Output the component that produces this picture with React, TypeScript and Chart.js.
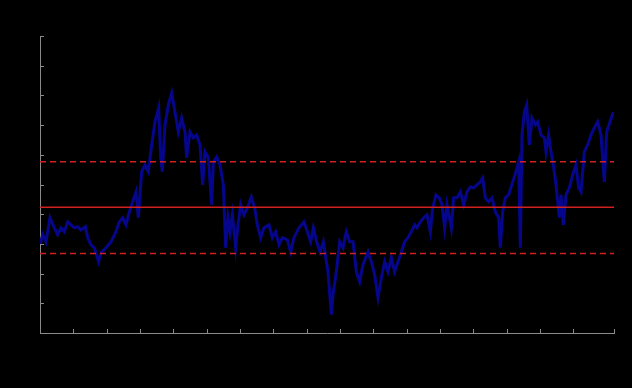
import { useEffect, useRef } from "react";
import { Chart, registerables } from "chart.js";

Chart.register(...registerables);

// time in years since the first observation
const time = [
  0.0, 0.08, 0.18, 0.3, 0.43, 0.53, 0.63, 0.73, 0.83, 0.93, 1.03, 1.13, 1.23, 1.36, 1.43, 1.53, 1.63, 1.76, 1.83, 1.98,
  2.13, 2.28, 2.38, 2.48, 2.58, 2.68, 2.78, 2.88, 2.95, 3.05, 3.15, 3.25, 3.35, 3.45, 3.56, 3.62, 3.67, 3.75, 3.85, 3.95,
  4.05, 4.15, 4.25, 4.35, 4.4, 4.5, 4.6, 4.7, 4.8, 4.88, 4.95, 5.05, 5.15, 5.2, 5.3, 5.4, 5.5, 5.57, 5.64, 5.7,
  5.77, 5.87, 5.94, 6.02, 6.12, 6.22, 6.34, 6.44, 6.52, 6.62, 6.72, 6.87, 6.97, 7.07, 7.17, 7.27, 7.42, 7.52, 7.62, 7.77,
  7.92, 8.02, 8.12, 8.2, 8.3, 8.4, 8.5, 8.64, 8.74, 8.79, 8.89, 8.99, 9.09, 9.19, 9.29, 9.39, 9.49, 9.59, 9.69, 9.84,
  9.94, 10.04, 10.14, 10.24, 10.34, 10.44, 10.54, 10.64, 10.74, 10.84, 10.94, 11.04, 11.14, 11.24, 11.31, 11.41, 11.51, 11.61, 11.71, 11.78,
  11.88, 11.98, 12.06, 12.14, 12.21, 12.34, 12.41, 12.51, 12.61, 12.71, 12.81, 12.91, 13.01, 13.11, 13.21, 13.28, 13.36, 13.46, 13.56, 13.66,
  13.76, 13.81, 13.88, 13.96, 14.06, 14.18, 14.28, 14.36, 14.41, 14.46, 14.53, 14.6, 14.68, 14.76, 14.86, 14.93, 15.03, 15.13, 15.18, 15.26,
  15.33, 15.4, 15.48, 15.53, 15.58, 15.63, 15.7, 15.78, 15.88, 15.98, 16.08, 16.16, 16.23, 16.33, 16.43, 16.53, 16.63, 16.73, 16.83, 16.93,
  17.0, 17.1, 17.2,
];

const values = [
  2.97, 3.31, 3.07, 3.88, 3.54, 3.31, 3.54, 3.41, 3.74, 3.64, 3.54, 3.58, 3.47, 3.58, 3.21, 2.97, 2.87, 2.4, 2.7, 2.87,
  3.07, 3.41, 3.74, 3.88, 3.64, 4.08, 4.42, 4.75, 3.88, 5.43, 5.66, 5.43, 6.33, 7.11, 7.58, 5.9, 5.43, 7.01, 7.68, 8.08,
  7.44, 6.77, 7.24, 6.77, 5.9, 6.77, 6.57, 6.67, 6.33, 4.99, 6.1, 5.9, 4.32, 5.76, 5.93, 5.66, 4.99, 2.87, 3.88, 3.41,
  3.98, 2.87, 3.64, 4.32, 3.98, 4.21, 4.58, 4.21, 3.64, 3.21, 3.54, 3.64, 3.21, 3.41, 2.97, 3.21, 3.14, 2.73, 3.21, 3.54,
  3.74, 3.41, 3.07, 3.54, 3.07, 2.73, 3.07, 2.06, 0.62, 1.29, 2.06, 3.07, 2.87, 3.41, 3.07, 3.07, 2.06, 1.73, 2.3, 2.73,
  2.4, 1.96, 1.19, 1.86, 2.4, 2.06, 2.54, 2.06, 2.4, 2.73, 3.07, 3.21, 3.41, 3.64, 3.54, 3.74, 3.88, 3.98, 3.41, 4.21,
  4.65, 4.55, 4.32, 3.54, 4.32, 3.54, 4.55, 4.55, 4.75, 4.32, 4.75, 4.92, 4.89, 4.99, 5.09, 5.22, 4.55, 4.42, 4.55, 4.08,
  3.88, 2.87, 4.08, 4.55, 4.65, 5.09, 5.43, 5.76, 2.87, 6.67, 7.44, 7.68, 6.33, 7.24, 7.01, 7.11, 6.67, 6.57, 6.1, 6.67,
  6.1, 5.66, 4.99, 4.42, 3.88, 4.65, 3.64, 4.65, 4.89, 5.32, 5.66, 4.89, 4.75, 6.1, 6.33, 6.67, 6.91, 7.11, 6.67, 5.09,
  6.77, 7.11, 7.44,
];

const meanValue = 4.23;
const upperBand = 5.77;
const lowerBand = 2.68;

const xMin = 0;
const xMax = 17.22;
const yMin = 0;
const yMax = 10;

const axisColor = "#8a8a8a";
const seriesColor = "#06068c";
const bandColor = "#d02020";

const innerTicks = {
  id: "innerTicks",
  afterDraw(chart: any) {
    const ctx = chart.ctx;
    const xs = chart.scales.x;
    const ys = chart.scales.y;
    ctx.save();
    ctx.strokeStyle = axisColor;
    ctx.lineWidth = 1;
    ctx.beginPath();
    ys.ticks.forEach((_t: any, i: number) => {
      const py = Math.round(ys.getPixelForTick(i)) + 0.5;
      ctx.moveTo(xs.left, py);
      ctx.lineTo(xs.left + 4, py);
    });
    xs.ticks.forEach((_t: any, i: number) => {
      const px = Math.round(xs.getPixelForTick(i)) + 0.5;
      ctx.moveTo(px, ys.bottom);
      ctx.lineTo(px, ys.bottom - 4);
    });
    ctx.stroke();
    ctx.restore();
  },
};

const blackBackground = {
  id: "blackBackground",
  beforeDraw(chart: any) {
    const ctx = chart.ctx;
    ctx.save();
    ctx.fillStyle = "#000000";
    ctx.fillRect(0, 0, chart.width, chart.height);
    ctx.restore();
  },
};

export default function App() {
  const canvasRef = useRef<HTMLCanvasElement | null>(null);

  useEffect(() => {
    document.body.style.margin = "0";
    document.body.style.background = "#000000";
    const canvas = canvasRef.current;
    if (!canvas) return;

    const series = time.map((t, i) => ({ x: t, y: values[i] }));
    const flat = (v: number) => [
      { x: xMin, y: v },
      { x: xMax, y: v },
    ];

    const chart = new Chart(canvas, {
      type: "line",
      data: {
        datasets: [
          {
            label: "Mean",
            data: flat(meanValue),
            borderColor: bandColor,
            borderWidth: 1.5,
            pointRadius: 0,
            order: 1,
          },
          {
            label: "+1 SD",
            data: flat(upperBand),
            borderColor: bandColor,
            borderWidth: 1.5,
            borderDash: [6, 4],
            pointRadius: 0,
            order: 1,
          },
          {
            label: "-1 SD",
            data: flat(lowerBand),
            borderColor: bandColor,
            borderWidth: 1.5,
            borderDash: [6, 4],
            pointRadius: 0,
            order: 1,
          },
          {
            label: "Series",
            data: series,
            borderColor: seriesColor,
            borderWidth: 3,
            pointRadius: 0,
            tension: 0,
            order: 2,
          },
        ],
      },
      options: {
        animation: false,
        responsive: false,
        maintainAspectRatio: false,
        layout: { padding: { left: 40, top: 36, right: 18, bottom: 55 } },
        plugins: { legend: { display: false }, tooltip: { enabled: false } },
        scales: {
          x: {
            type: "linear",
            min: xMin,
            max: xMax,
            ticks: { display: false, stepSize: 1 },
            grid: { display: true, drawOnChartArea: false, drawTicks: false },
            border: { display: true, color: axisColor, width: 1 },
          },
          y: {
            type: "linear",
            min: yMin,
            max: yMax,
            ticks: { display: false, stepSize: 1 },
            grid: { display: true, drawOnChartArea: false, drawTicks: false },
            border: { display: true, color: axisColor, width: 1 },
          },
        },
      },
      plugins: [blackBackground, innerTicks],
    });

    return () => chart.destroy();
  }, []);

  return (
    <div style={{ width: 632, height: 388, background: "#000000" }}>
      <canvas ref={canvasRef} width={632} height={388} style={{ display: "block" }} />
    </div>
  );
}
